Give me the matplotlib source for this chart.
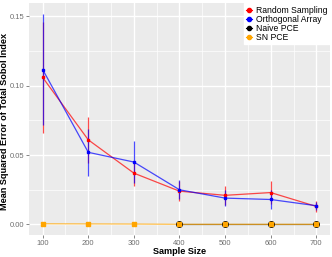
import numpy as np
import matplotlib.pyplot as plt

plt.rcParams['font.family'] = ['Liberation Sans', 'DejaVu Sans']

sample_size = [100, 200, 300, 400, 500, 600, 700]

rs_mean = [0.106, 0.061, 0.037, 0.024, 0.021, 0.023, 0.013]
rs_err = [0.040, 0.0165, 0.009, 0.007, 0.007, 0.008, 0.004]

oa_mean = [0.1117, 0.052, 0.045, 0.025, 0.019, 0.018, 0.0135]
oa_err = [0.040, 0.017, 0.015, 0.007, 0.006, 0.007, 0.003]

naive_x = [400, 500, 600, 700]
naive_mean = [0.0, 0.0, 0.0, 0.0]

sn_mean = [0.0005, 0.0004, 0.0003, 0.0001, 0.0001, 0.0001, 0.0001]

labels = ['Random Sampling', 'Orthogonal Array', 'Naive PCE', 'SN PCE']
colors = ['red', 'blue', 'black', 'orange']

fig = plt.figure(figsize=(3.32, 2.57), dpi=100)
ax = fig.add_axes([0.0873, 0.0856, 0.9067, 0.9024])
ax.set_facecolor('#EBEBEB')

# grid like ggplot
for v in [150, 250, 350, 450, 550, 650]:
    ax.axvline(v, color='white', lw=0.5, zorder=0)
for v in sample_size:
    ax.axvline(v, color='white', lw=1.0, zorder=0)
for v in [0.025, 0.075, 0.125]:
    ax.axhline(v, color='white', lw=0.5, zorder=0)
for v in [0.0, 0.05, 0.10, 0.15]:
    ax.axhline(v, color='white', lw=1.0, zorder=0)

ax.plot(sample_size, rs_mean, color='red', lw=0.9, alpha=0.7, zorder=2)
ax.errorbar(sample_size, rs_mean, yerr=rs_err, fmt='none', ecolor='red',
            elinewidth=0.9, alpha=0.7, zorder=2)
ax.plot(sample_size, rs_mean, 's', color='red', ms=2, zorder=3)

ax.plot(sample_size, oa_mean, color='blue', lw=0.9, alpha=0.7, zorder=2)
ax.errorbar(sample_size, oa_mean, yerr=oa_err, fmt='none', ecolor='blue',
            elinewidth=0.9, alpha=0.7, zorder=2)
ax.plot(sample_size, oa_mean, 's', color='blue', ms=2, zorder=3)

ax.plot(naive_x, naive_mean, color='black', lw=0.9, alpha=0.6, zorder=2)
ax.plot(naive_x, naive_mean, 'o', color='black', ms=4, zorder=3)

ax.plot(sample_size, sn_mean, color='orange', lw=0.9, alpha=0.7, zorder=2)
ax.plot(sample_size, sn_mean, 's', color='orange', ms=2.5, zorder=4)
ax.plot(naive_x, sn_mean[3:], 'o', color='orange', ms=2.6, zorder=4)

ax.set_xlim(70, 730)
ax.set_ylim(-0.0076, 0.1596)
ax.set_xticks(sample_size)
ax.set_yticks([0.0, 0.05, 0.10, 0.15])
ax.set_yticklabels(['0.00', '0.05', '0.10', '0.15'])
ax.tick_params(labelsize=5.5, labelcolor='#6E6E6E', color='#555555',
               length=2, width=0.5, pad=1.5)
for s in ax.spines.values():
    s.set_visible(False)

ax.set_xlabel('Sample Size', fontsize=6.6, fontweight='bold')
ax.set_ylabel('Mean Squared Error of Total Sobol Index', fontsize=6.6,
              fontweight='bold')
ax.xaxis.set_label_coords(0.5, -0.052)
ax.yaxis.set_label_coords(-0.066, 0.49)

handles = [plt.Line2D([], [], color=c, marker='o', ms=3, lw=0.8) for c in colors]
leg = ax.legend(handles, labels, loc='upper right', fontsize=6.2,
                frameon=True, fancybox=False, framealpha=1, edgecolor='white',
                handlelength=0.7, handletextpad=0.4, labelspacing=0.0,
                borderpad=0.3, borderaxespad=0.0)

fig.savefig('out.png', dpi=100)
